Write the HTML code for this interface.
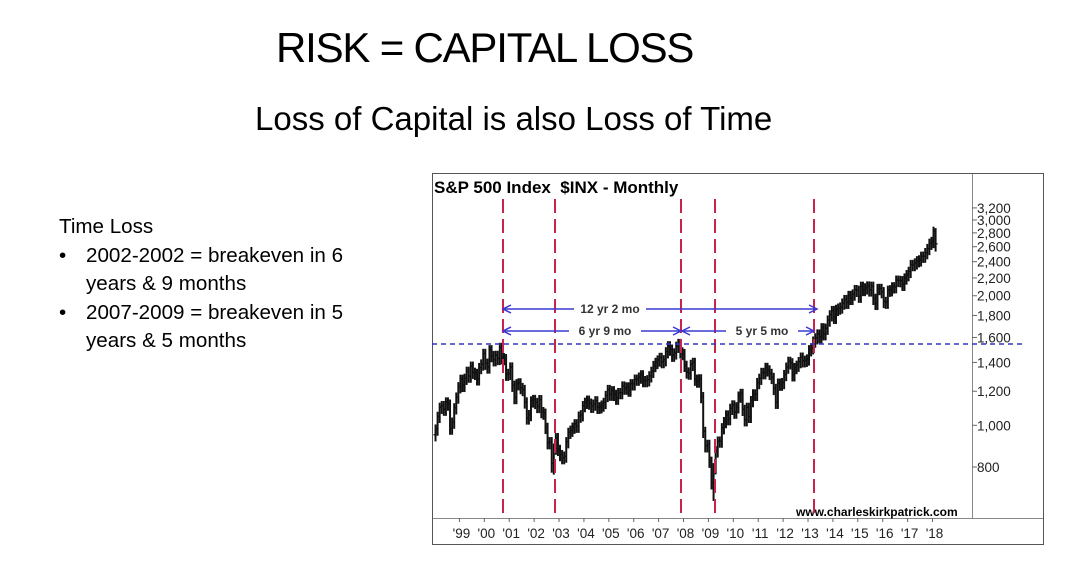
<!DOCTYPE html>
<html><head><meta charset="utf-8">
<style>
body{margin:0;width:1071px;height:587px;background:#fff;overflow:hidden;font-family:"Liberation Sans",sans-serif;position:relative}
.t{position:absolute;white-space:nowrap;color:#000}
</style></head><body>
<div class="t" style="left:276px;top:24px;font-size:42px;letter-spacing:-1.2px">RISK = CAPITAL LOSS</div>
<div class="t" style="left:255px;top:100px;font-size:33px">Loss of Capital is also Loss of Time</div>
<div class="t" style="left:59px;top:213px;font-size:20.6px;line-height:28.5px">Time Loss<br>
<span style="display:inline-block;width:27px">•</span>2002-2002 = breakeven in 6<br>
<span style="display:inline-block;width:27px"></span>years &amp; 9 months<br>
<span style="display:inline-block;width:27px">•</span>2007-2009 = breakeven in 5<br>
<span style="display:inline-block;width:27px"></span>years &amp; 5 months</div>
<svg id="c" width="1071" height="587" style="position:absolute;left:0;top:0" xmlns="http://www.w3.org/2000/svg">
<rect x="432.5" y="173.5" width="611" height="371" fill="none" stroke="#555"/>
<line x1="972.5" y1="174" x2="972.5" y2="518" stroke="#888"/>
<line x1="433" y1="518.5" x2="1043" y2="518.5" stroke="#888"/>
<text x="434" y="193" font-size="17" font-weight="bold" font-family="Liberation Sans">S&amp;P 500 Index&#160;&#160;$INX - Monthly</text>
<text x="796" y="516" font-size="12" font-weight="bold" font-family="Liberation Sans">www.charleskirkpatrick.com</text>
<g id="g"></g>
</svg>
<script>
var g=document.getElementById('g'),s='';
function Y(v){return 467-186.9*Math.log(v/800);}
function X(t){return 503+(t-2000.75)*24.9;}
[3200,3000,2800,2600,2400,2200,2000,1800,1600,1400,1200,1000,800].forEach(function(v){var y=Y(v);
s+='<line x1="972" y1="'+y+'" x2="977" y2="'+y+'" stroke="#666"/>';
s+='<text x="977" y="'+(y+5)+'" font-size="13.5" font-family="Liberation Sans" fill="#222">'+v.toLocaleString('en-US')+'</text>';});
var yrs=['99','00','01','02','03','04','05','06','07','08','09','10','11','12','13','14','15','16','17','18'];
yrs.forEach(function(l,i){var x=X(1999+i);s+='<line x1="'+x+'" y1="518" x2="'+x+'" y2="522" stroke="#666"/>';
s+='<text x="'+(x+2)+'" y="538" font-size="13.5" text-anchor="middle" font-family="Liberation Sans" fill="#222">\''+l+'</text>';});
var d=[980,1049,1101,1111,1090,1133,1120,985,1017,1098,1163,1229,
1279,1238,1286,1335,1301,1372,1328,1320,1282,1362,1388,1469,
1394,1366,1498,1452,1420,1454,1430,1517,1436,1429,1314,1320,
1366,1239,1160,1249,1255,1224,1211,1133,1040,1059,1139,1148,
1130,1106,1147,1076,1067,989,911,916,815,885,936,879,
855,841,848,916,963,974,990,1008,995,1050,1058,1111,
1131,1144,1126,1107,1120,1140,1101,1104,1114,1130,1173,1211,
1181,1203,1180,1156,1191,1191,1234,1220,1228,1207,1249,1248,
1280,1280,1294,1310,1270,1270,1276,1303,1335,1377,1400,1418,
1438,1406,1420,1482,1530,1503,1455,1473,1526,1549,1481,1468,
1378,1330,1322,1385,1400,1280,1267,1282,1166,968,896,903,
825,735,797,872,919,919,987,1020,1057,1036,1095,1115,
1073,1104,1169,1186,1089,1030,1101,1049,1141,1183,1180,1257,
1286,1327,1325,1363,1345,1320,1292,1218,1131,1253,1246,1257,
1312,1365,1408,1397,1310,1362,1379,1406,1440,1412,1416,1426,
1498,1514,1569,1597,1630,1606,1685,1632,1681,1756,1806,1848,
1782,1859,1872,1883,1923,1960,1931,2003,1972,2018,2067,2059,
1995,2104,2068,2086,2107,2063,2104,1972,1920,2079,2080,2044,
1940,1932,2060,2065,2097,2099,2174,2171,2168,2126,2199,2239,
2279,2364,2363,2384,2412,2423,2470,2472,2519,2575,2648,2674,
2824,2640];
for(var i=0;i<d.length;i++){var p=i?d[i-1]:d[0]*0.97,c=d[i];
var hi=Math.max(p,c)*1.025,lo=Math.min(p,c)*0.965;
if(i==56)lo=776;if(i==57)lo=768;if(i==134)lo=667;if(i==241){hi=2872;lo=2533;}
var x=X(1998+i/12+0.04);
s+='<line x1="'+x+'" y1="'+Y(hi)+'" x2="'+x+'" y2="'+Y(lo)+'" stroke="#111" stroke-width="2"/>';
s+='<line x1="'+(x-2)+'" y1="'+Y(p)+'" x2="'+x+'" y2="'+Y(p)+'" stroke="#111" stroke-width="1.3"/>';
s+='<line x1="'+x+'" y1="'+Y(c)+'" x2="'+(x+2)+'" y2="'+Y(c)+'" stroke="#111" stroke-width="1.3"/>';}
[503,555,681,715,814].forEach(function(x){s+='<line x1="'+x+'" y1="199" x2="'+x+'" y2="518" stroke="#c8234a" stroke-width="2" stroke-dasharray="14,6"/>';});
s+='<line x1="432" y1="344" x2="1025" y2="344" stroke="#3333bb" stroke-width="1.5" stroke-dasharray="5,4"/>';
function arr(x1,x2,y,lab,lx){var c='#3a3ad0';
s+='<line x1="'+x1+'" y1="'+y+'" x2="'+x2+'" y2="'+y+'" stroke="'+c+'" stroke-width="1.5"/>';
s+='<polyline points="'+(x1+8)+','+(y-4)+' '+x1+','+y+' '+(x1+8)+','+(y+4)+'" fill="none" stroke="'+c+'" stroke-width="1.5"/>';
s+='<polyline points="'+(x2-8)+','+(y-4)+' '+x2+','+y+' '+(x2-8)+','+(y+4)+'" fill="none" stroke="'+c+'" stroke-width="1.5"/>';
s+='<rect x="'+(lx-36)+'" y="'+(y-7)+'" width="72" height="14" fill="#fff"/>';
s+='<text x="'+lx+'" y="'+(y+4)+'" font-size="12" font-weight="bold" text-anchor="middle" font-family="Liberation Sans" fill="#333">'+lab+'</text>';}
arr(503,817,309,'12 yr 2 mo',610);
arr(503,681,331,'6 yr 9 mo',605);
arr(682,814,331,'5 yr 5 mo',762);
g.innerHTML=s;
</script>
</body></html>
